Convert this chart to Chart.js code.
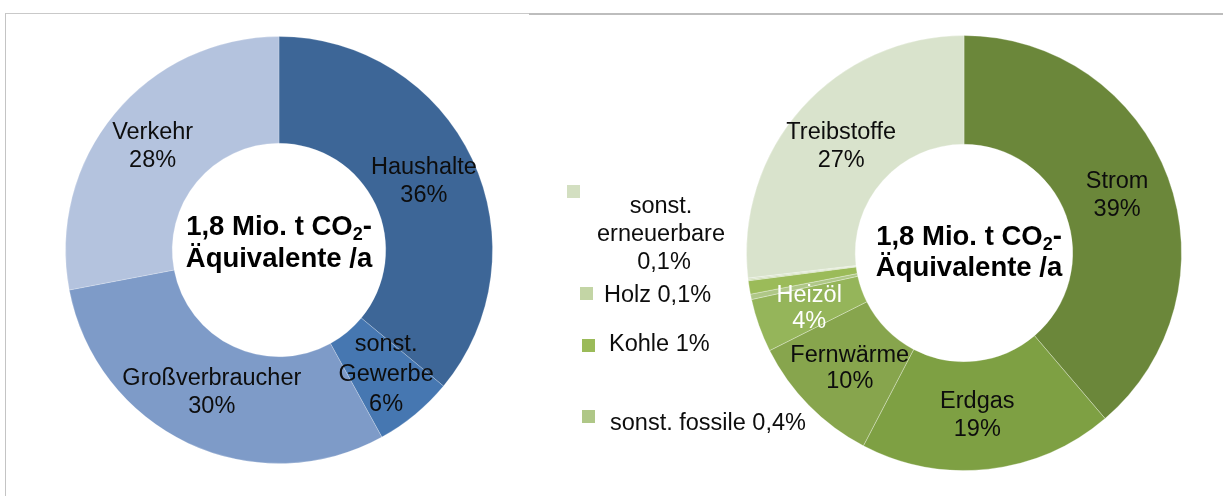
<!DOCTYPE html>
<html>
<head>
<meta charset="utf-8">
<script src="https://cdn.jsdelivr.net/npm/chart.js@4.4.1/dist/chart.umd.min.js"></script>
<style>
  html, body { margin: 0; padding: 0; background: #ffffff; }
  #wrap { position: relative; width: 1223px; height: 496px; overflow: hidden; background: #fff; }
  canvas { position: absolute; top: 0; }
  #frameL { position: absolute; left: 5px; top: 13px; width: 524px; height: 483px; border-left: 1px solid #c4c4c4; border-top: 1px solid #c9c9c9; }
  #frameR { position: absolute; left: 529px; top: 13px; width: 700px; height: 0; border-top: 2px solid #bdbdbd; }
</style>
</head>
<body>
<div id="wrap">
  <div id="frameL"></div>
  <div id="frameR"></div>
  <canvas id="left" width="540" height="496" style="left:0px"></canvas>
  <canvas id="right" width="683" height="496" style="left:540px"></canvas>
</div>
<script>
// ---------- data ----------
const leftCategories = ['Haushalte', 'sonst. Gewerbe', 'Großverbraucher', 'Verkehr'];
const leftValues = [36, 6, 30, 28];
const leftPctLabels = ['36%', '6%', '30%', '28%'];
const leftColors = ['#3d6697', '#4677b1', '#7e9bc8', '#b4c3de'];

const rightCategories = ['Strom', 'Erdgas', 'Fernwärme', 'Heizöl', 'sonst. fossile', 'Kohle', 'Holz', 'sonst. erneuerbare', 'Treibstoffe'];
const rightValues = [39, 19, 10, 4, 0.4, 1, 0.1, 0.1, 27];
const rightPctLabels = ['39%', '19%', '10%', '4%', '0,4%', '1%', '0,1%', '0,1%', '27%'];
const rightColors = ['#6b873a', '#7ea043', '#87a54d', '#95b55a', '#afc787', '#9bbb59', '#c3d5a5', '#d3dfc1', '#d9e3cc'];

const centerLine1 = '1,8 Mio. t CO';
const centerSub = '2';
const centerLine1End = '-';
const centerLine2 = 'Äquivalente /a';

// ---------- styling / layout ----------
const FONT = '"Liberation Sans", Arial, sans-serif';
const LABEL_SIZE = 23.5;

const leftLabelLines = [
  ['Haushalte', leftPctLabels[0]],
  ['sonst.', 'Gewerbe', leftPctLabels[1]],
  ['Großverbraucher', leftPctLabels[2]],
  ['Verkehr', leftPctLabels[3]]
];
const leftNudge = [[0, 0, 28], [5, 1, 30], [1, -2, 28], [-3, -1, 28]];

const rightLabelLines = [
  ['Strom', rightPctLabels[0]],
  ['Erdgas', rightPctLabels[1]],
  ['Fernwärme', rightPctLabels[2]],
  ['Heizöl', rightPctLabels[3]],
  null, null, null, null,
  ['Treibstoffe', rightPctLabels[8]]
];
const rightNudge = [[0, -1, 28], [-5, 0, 28], [2, 1, 26], [-1, 1, 26], null, null, null, null, [-1, 2, 28]];
const rightLabelColor = ['#0d0d0d', '#0d0d0d', '#0d0d0d', '#ffffff', null, null, null, null, '#0d0d0d'];

function drawCenterText(ctx, cx, base1, base2) {
  ctx.save();
  ctx.fillStyle = '#000';
  ctx.textAlign = 'left';
  ctx.textBaseline = 'alphabetic';
  const big = 'bold 27.5px ' + FONT;
  const small = 'bold 18px ' + FONT;
  ctx.font = big;
  const w1 = ctx.measureText(centerLine1).width;
  const w3 = ctx.measureText(centerLine1End).width;
  ctx.font = small;
  const w2 = ctx.measureText(centerSub).width;
  let x = cx - (w1 + w2 + w3) / 2;
  ctx.font = big;
  ctx.fillText(centerLine1, x, base1);
  ctx.font = small;
  ctx.fillText(centerSub, x + w1, base1 + 5);
  ctx.font = big;
  ctx.fillText(centerLine1End, x + w1 + w2, base1);
  ctx.textAlign = 'center';
  ctx.fillText(centerLine2, cx, base2);
  ctx.restore();
}

function drawRingLabels(chart, linesArr, nudge, colors) {
  const ctx = chart.ctx;
  const meta = chart.getDatasetMeta(0);
  ctx.save();
  ctx.font = LABEL_SIZE + 'px ' + FONT;
  ctx.textAlign = 'center';
  ctx.textBaseline = 'middle';
  meta.data.forEach((arc, i) => {
    const lines = linesArr[i];
    if (!lines) return;
    const p = arc.tooltipPosition();
    const n = nudge[i];
    const lh = n[2];
    const x = p.x + n[0];
    const y0 = p.y + n[1] - (lines.length - 1) * lh / 2;
    ctx.fillStyle = colors ? colors[i] : '#0d0d0d';
    lines.forEach((t, k) => ctx.fillText(t, x, y0 + k * lh));
  });
  ctx.restore();
}

const leftPlugin = {
  id: 'leftLabels',
  afterDraw(chart) {
    drawRingLabels(chart, leftLabelLines, leftNudge, null);
    const a = chart.getDatasetMeta(0).data[0];
    drawCenterText(chart.ctx, a.x, a.y - 15, a.y + 17);
  }
};

const OX = 540;
const rightPlugin = {
  id: 'rightLabels',
  afterDraw(chart) {
    drawRingLabels(chart, rightLabelLines, rightNudge, rightLabelColor);
    const a = chart.getDatasetMeta(0).data[0];
    drawCenterText(chart.ctx, a.x + 5, a.y - 8, a.y + 23);
    const ctx = chart.ctx;
    ctx.save();
    ctx.font = LABEL_SIZE + 'px ' + FONT;
    ctx.textBaseline = 'alphabetic';
    // sonst. erneuerbare (index 7)
    ctx.fillStyle = rightColors[7];
    ctx.fillRect(567 - OX, 185, 13, 13);
    ctx.fillStyle = '#0d0d0d';
    ctx.textAlign = 'center';
    ctx.fillText('sonst.', 661 - OX, 213);
    ctx.fillText('erneuerbare', 661 - OX, 241);
    ctx.fillText(rightPctLabels[7], 664 - OX, 269);
    ctx.textAlign = 'left';
    // Holz (6)
    ctx.fillStyle = rightColors[6];
    ctx.fillRect(580 - OX, 287, 13, 13);
    ctx.fillStyle = '#0d0d0d';
    ctx.fillText(rightCategories[6] + ' ' + rightPctLabels[6], 604 - OX, 302);
    // Kohle (5)
    ctx.fillStyle = rightColors[5];
    ctx.fillRect(582 - OX, 339, 13, 13);
    ctx.fillStyle = '#0d0d0d';
    ctx.fillText(rightCategories[5] + ' ' + rightPctLabels[5], 609 - OX, 351);
    // sonst. fossile (4)
    ctx.fillStyle = rightColors[4];
    ctx.fillRect(582 - OX, 410, 13, 13);
    ctx.fillStyle = '#0d0d0d';
    ctx.fillText(rightCategories[4] + ' ' + rightPctLabels[4], 610 - OX, 430);
    ctx.restore();
  }
};

function baseOptions(padding) {
  return {
    responsive: false,
    animation: false,
    devicePixelRatio: 1,
    cutout: '50%',
    layout: { padding },
    plugins: { legend: { display: false }, tooltip: { enabled: false } }
  };
}

new Chart(document.getElementById('left'), {
  type: 'doughnut',
  data: {
    labels: leftCategories,
    datasets: [{
      data: leftValues,
      backgroundColor: leftColors,
      borderColor: 'rgba(255,255,255,0.22)',
      borderWidth: 1
    }]
  },
  options: baseOptions({ left: 65, right: 47, top: 36, bottom: 32 }),
  plugins: [leftPlugin]
});

new Chart(document.getElementById('right'), {
  type: 'doughnut',
  data: {
    labels: rightCategories,
    datasets: [{
      data: rightValues,
      backgroundColor: rightColors,
      borderColor: 'rgba(255,255,255,0.3)',
      borderWidth: 1
    }]
  },
  options: baseOptions({ left: 206, right: 41, top: 35, bottom: 25 }),
  plugins: [rightPlugin]
});
</script>
</body>
</html>
